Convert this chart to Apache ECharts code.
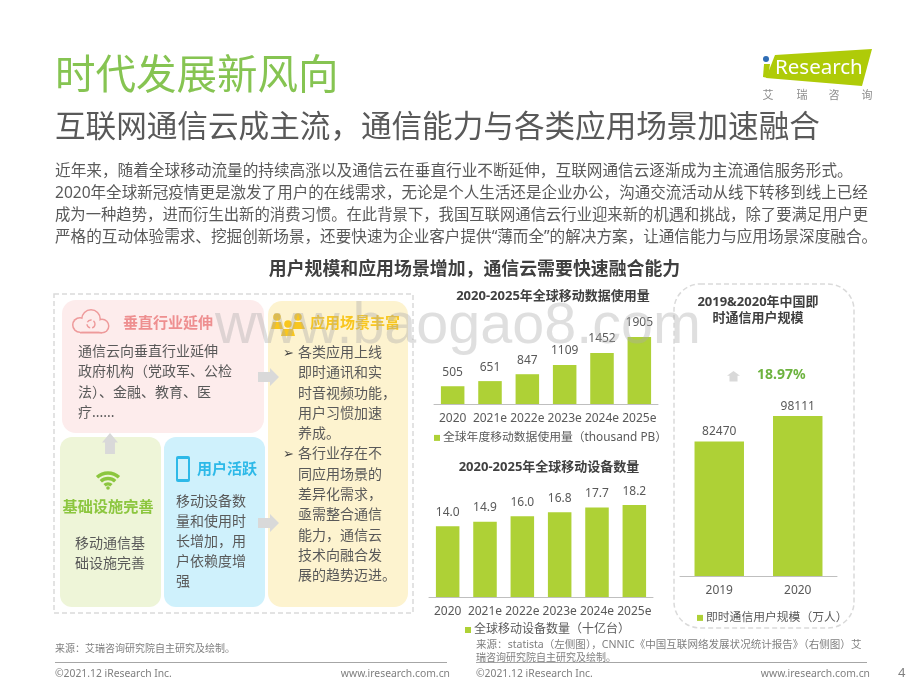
<!DOCTYPE html>
<html>
<head>
<meta charset="utf-8">
<style>html,body{margin:0;padding:0;background:#fff}#main{width:920px;height:690px}</style>
<script src="https://cdn.jsdelivr.net/npm/echarts@6/dist/echarts.min.js"></script>
</head>
<body>
<div id="main"></div>
<script>
'use strict';

const dataYears = ['2020', '2021e', '2022e', '2023e', '2024e', '2025e'];
const dataUsage = [505, 651, 847, 1109, 1452, 1905];
const deviceCount = [14.0, 14.9, 16.0, 16.8, 17.7, 18.2];
const imYears = ['2019', '2020'];
const imUsers = [82470, 98111];

const usageName = '全球年度移动数据使用量（thousand PB）';
const deviceName = '全球移动设备数量（十亿台）';
const imName = '即时通信用户规模（万人）';

const introLines = [
	'近年来，随着全球移动流量的持续高涨以及通信云在垂直行业不断延伸，互联网通信云逐渐成为主流通信服务形式。',
	'2020年全球新冠疫情更是激发了用户的在线需求，无论是个人生活还是企业办公，沟通交流活动从线下转移到线上已经',
	'成为一种趋势，进而衍生出新的消费习惯。在此背景下，我国互联网通信云行业迎来新的机遇和挑战，除了要满足用户更',
	'严格的互动体验需求、挖掘创新场景，还要快速为企业客户提供“薄而全”的解决方案，让通信能力与应用场景深度融合。'
];
const pinkLines = ['通信云向垂直行业延伸', '政府机构（党政军、公检', '法）、金融、教育、医', '疗......'];
const greenLines = ['移动通信基', '础设施完善'];
const blueLines = ['移动设备数', '量和使用时', '长增加，用', '户依赖度增', '强'];
const yellowLines = ['各类应用上线', '即时通讯和实', '时音视频功能，', '用户习惯加速', '养成。', '各行业存在不', '同应用场景的', '差异化需求，', '亟需整合通信', '能力，通信云', '技术向融合发', '展的趋势迈进。'];

const FONT = '"Noto Sans","Noto Sans CJK SC",sans-serif';
const BAR = '#AED136';
const GRAY = '#595959';
// the slide justifies its intro lines, so each one gets its own size
const INTRO_SIZES = [15.65, 15.55, 15.35, 15.6];

function txt(x, y, text, size, fill, extra) {
	extra = extra || {};
	return {
		type: 'text', x: x, y: y, silent: true, z: extra.z || 5,
		style: {
			text: text, fill: fill,
			font: (extra.weight || 'normal') + ' ' + size + 'px ' + (extra.family || FONT),
			textAlign: extra.align || 'left', textVerticalAlign: 'middle'
		}
	};
}
function box(x, y, w, h, r, fill) {
	return { type: 'rect', z: 1, silent: true, shape: { x: x, y: y, width: w, height: h, r: r }, style: { fill: fill } };
}
function dashed(x, y, w, h, r) {
	return {
		type: 'rect', z: 0, silent: true, shape: { x: x, y: y, width: w, height: h, r: r },
		style: { fill: 'none', stroke: '#DADADA', lineWidth: 1.5, lineDash: [5, 3] }
	};
}
function poly(points, fill) {
	return { type: 'polygon', z: 3, silent: true, shape: { points: points }, style: { fill: fill } };
}
function dot(cx, cy, r, fill) {
	return { type: 'circle', z: 3, silent: true, shape: { cx: cx, cy: cy, r: r }, style: { fill: fill } };
}
function arrowRight(x, y) {
	return poly([[x, y - 5], [x + 12, y - 5], [x + 12, y - 9], [x + 21, y], [x + 12, y + 9], [x + 12, y + 5], [x, y + 5]], '#D9D9D9');
}
function arrowUp(x, top, half, h) {
	let neck = top + h * 0.45;
	return poly([[x - half * 0.62, top + h], [x - half * 0.62, neck], [x - half, neck], [x, top], [x + half, neck], [x + half * 0.62, neck], [x + half * 0.62, top + h]], '#D9D9D9');
}
function wifiArc(r) {
	return {
		type: 'arc', z: 3, silent: true,
		shape: { cx: 108, cy: 489, r: r, startAngle: -Math.PI * 0.74, endAngle: -Math.PI * 0.26, clockwise: true },
		style: { fill: 'none', stroke: '#8CC63F', lineWidth: 3.4 }
	};
}

let graphics = [
	txt(55, 77, '时代发展新风向', 40.5, '#86C452'),
	txt(55, 128, '互联网通信云成主流，通信能力与各类应用场景加速融合', 30.6, '#595959'),

	// logo
	poly([[775, 55], [872, 49], [862, 86], [766, 78]], '#AFCB08'),
	poly([[764, 64], [770, 64], [768, 78], [763, 77]], '#AFCB08'),
	dot(766, 59, 3, '#2F6DB5'),
	txt(775, 68, 'Research', 20.5, '#fff'),
	txt(768, 96, '艾', 11, '#8C8C8C', { align: 'center' }),
	txt(802, 96, '瑞', 11, '#8C8C8C', { align: 'center' }),
	txt(834, 96, '咨', 11, '#8C8C8C', { align: 'center' }),
	txt(867, 96, '询', 11, '#8C8C8C', { align: 'center' }),

	txt(474.5, 270, '用户规模和应用场景增加，通信云需要快速融合能力', 17.9, '#404040', { align: 'center', weight: 'bold' }),

	// left panel
	dashed(54, 294, 359, 319, 0),
	box(62, 300, 202, 133, 14, '#FDECEC'),
	box(60, 437, 101, 170, 12, '#EEF5D8'),
	box(164, 437, 101, 170, 12, '#CFF1FC'),
	box(268, 301, 140, 306, 14, '#FDF3CF'),

	// cloud
	dot(80, 325, 8, '#EE9A9B'), dot(91, 319, 10, '#EE9A9B'), dot(102, 326, 7.5, '#EE9A9B'),
	box(80, 325, 22, 8.5, 0, '#EE9A9B'),
	dot(80, 325, 6.5, '#FDECEC'), dot(91, 319, 8.5, '#FDECEC'), dot(102, 326, 6, '#FDECEC'),
	{ type: 'rect', z: 3, silent: true, shape: { x: 80, y: 322, width: 22, height: 9.6 }, style: { fill: '#FDECEC' } },
	{ type: 'circle', z: 3, silent: true, shape: { cx: 91, cy: 324, r: 4 }, style: { fill: 'none', stroke: '#EE9A9B', lineWidth: 1.4, lineDash: [5, 2] } },
	txt(123, 324, '垂直行业延伸', 15, '#EE8F90', { weight: 'bold' }),

	// people
	dot(277, 317, 3.8, '#F8C61E'), dot(298, 317, 3.8, '#F8C61E'), dot(288, 324, 3.8, '#F8C61E'),
	poly([[271, 329], [273, 322], [281, 322], [283, 329]], '#F8C61E'),
	poly([[292, 329], [294, 322], [302, 322], [305, 329]], '#F8C61E'),
	poly([[281, 336], [283, 329], [293, 329], [295, 336]], '#F8C61E'),
	txt(310, 324, '应用场景丰富', 15, '#F8C61E', { weight: 'bold' }),

	// wifi
	wifiArc(5), wifiArc(10.5), wifiArc(16), dot(108, 488, 1.8, '#8CC63F'),
	txt(108, 508, '基础设施完善', 15.2, '#8CC63F', { align: 'center', weight: 'bold' }),

	// phone
	box(176, 456, 14, 26, 2, '#2DB9E8'),
	{ type: 'rect', z: 3, silent: true, shape: { x: 178, y: 459, width: 10, height: 20 }, style: { fill: '#CFF1FC' } },
	txt(197, 470, '用户活跃', 15, '#2DB9E8', { weight: 'bold' }),

	arrowUp(110, 433, 8, 21),
	arrowRight(258, 377),
	arrowRight(258, 523),

	txt(283, 353, '➢', 12.5, '#404040'),
	txt(283, 454, '➢', 12.5, '#404040'),

	// right panel
	dashed(674, 284, 180, 344, 26),
	arrowUp(733.5, 371, 6.5, 10.5),
	txt(757, 375, '18.97%', 14, '#6DB33F', { weight: 'bold' }),

	// footer
	txt(55, 649, '来源：艾瑞咨询研究院自主研究及绘制。', 10, '#7F7F7F'),
	txt(476, 645, '来源：statista（左侧图），CNNIC《中国互联网络发展状况统计报告》（右侧图）艾', 10.55, '#7F7F7F'),
	txt(476, 658, '瑞咨询研究院自主研究及绘制。', 10, '#7F7F7F'),
	{ type: 'rect', z: 2, silent: true, shape: { x: 55, y: 662, width: 392, height: 1 }, style: { fill: '#A6A6A6' } },
	{ type: 'rect', z: 2, silent: true, shape: { x: 476, y: 662, width: 391, height: 1 }, style: { fill: '#A6A6A6' } },
	txt(55, 674, '©2021.12 iResearch Inc.', 10.35, '#7F7F7F'),
	txt(450, 674, 'www.iresearch.com.cn', 10.35, '#7F7F7F', { align: 'right' }),
	txt(476, 674, '©2021.12 iResearch Inc.', 10.35, '#7F7F7F'),
	txt(870, 674, 'www.iresearch.com.cn', 10.35, '#7F7F7F', { align: 'right' }),
	txt(898, 673, '4', 13, '#7F7F7F'),

	// watermark
	txt(215, 327, 'www.baogao8.com', 57.5, 'rgba(170,170,170,0.38)', { z: 50, family: '"Liberation Sans",sans-serif' })
];

introLines.forEach((s, i) => graphics.push(txt(55, 172 + i * 22, s, INTRO_SIZES[i], '#595959')));
pinkLines.forEach((s, i) => graphics.push(txt(78, 352 + i * 20.4, s, 14, GRAY)));
greenLines.forEach((s, i) => graphics.push(txt(110, 544 + i * 20, s, 14, GRAY, { align: 'center' })));
blueLines.forEach((s, i) => graphics.push(txt(176, 502 + i * 20, s, 14, GRAY)));
yellowLines.forEach((s, i) => graphics.push(txt(298, 353 + i * 20.3, s, 14, GRAY)));

function xAxisFor(index, data) {
	return {
		type: 'category', gridIndex: index, data: data,
		axisLine: { lineStyle: { color: '#BFBFBF', width: 1 } },
		axisTick: { show: false },
		axisLabel: { color: GRAY, fontSize: 12, fontFamily: FONT, margin: 9, interval: 0 }
	};
}
function yAxisFor(index, max) {
	return { type: 'value', gridIndex: index, min: 0, max: max, show: false, splitLine: { show: false } };
}
function barFor(index, name, data, dist, fmt) {
	return {
		type: 'bar', name: name, xAxisIndex: index, yAxisIndex: index, data: data,
		barCategoryGap: '37%', itemStyle: { color: BAR }, silent: true, animation: false,
		label: { show: true, position: 'top', distance: dist, color: GRAY, fontSize: 12, fontFamily: FONT, formatter: fmt || '{c}' }
	};
}
function legendFor(name, left, top, size) {
	return {
		data: [name], left: left, top: top, padding: 0, itemWidth: 6, itemHeight: 6, itemGap: 0, icon: 'rect',
		selectedMode: false, textStyle: { color: GRAY, fontSize: size, fontFamily: FONT, padding: [0, 0, 0, -2] }
	};
}
function titleFor(text, left, top) {
	return {
		text: text, left: left, top: top, textAlign: 'center', padding: 0,
		textStyle: { color: '#404040', fontSize: 13, fontWeight: 'bold', fontFamily: FONT, lineHeight: 16 }
	};
}

let myChart = echarts.init(document.getElementById('main'));

let option = {
	backgroundColor: '#fff',
	animation: false,
	title: [
		titleFor('2020-2025年全球移动数据使用量', 553, 288),
		titleFor('2020-2025年全球移动设备数量', 549, 459),
		titleFor('2019&2020年中国即\n时通信用户规模', 758, 294)
	],
	legend: [
		legendFor(usageName, 434, 432, 11.8),
		legendFor(deviceName, 465, 624, 12),
		legendFor(imName, 697, 612, 11.8)
	],
	grid: [
		{ left: 434, width: 224, top: 319.6, height: 84.4 },
		{ left: 429, width: 224, top: 496, height: 101 },
		{ left: 680, width: 157, top: 413, height: 163 }
	],
	xAxis: [xAxisFor(0, dataYears), xAxisFor(1, dataYears), xAxisFor(2, imYears)],
	yAxis: [yAxisFor(0, 2400), yAxisFor(1, 20), yAxisFor(2, 100000)],
	series: [
		barFor(0, usageName, dataUsage, 8),
		barFor(1, deviceName, deviceCount, 8, p => p.value.toFixed(1)),
		barFor(2, imName, imUsers, 4)
	],
	graphic: { elements: graphics }
};
myChart.setOption(option);
</script>
</body>
</html>
